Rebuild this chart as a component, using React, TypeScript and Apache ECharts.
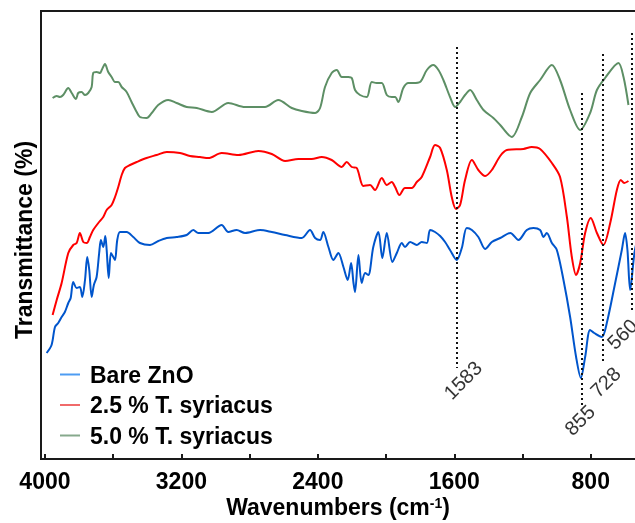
import React, { useEffect, useRef } from "react";
import * as echarts from "echarts";

// Bare ZnO
const bareW = [3990,3961,3941,3922,3902,3883,3863,3849,3834,3814,3795,3781,3765,3752,3740,3726,3713,3697,3682,3672,3658,3646,3638,3626,3613,3599,3589,3576,3560,3521,3482,3443,3384,3335,3286,3228,3169,3130,3101,3042,2964,2925,2876,2827,2739,2670,2592,2494,2446,2416,2387,2368,2338,2309,2280,2250,2225,2205,2191,2182,2162,2143,2123,2104,2075,2045,2022,1996,1963,1937,1908,1889,1859,1820,1791,1761,1742,1713,1683,1654,1625,1586,1556,1527,1497,1459,1419,1380,1331,1272,1224,1175,1136,1097,1077,1058,1028,999,960,921,886,858,833,804,780,735,706,657,618,599,585,569,544,520];
const bareT = [106,114,132,136,142,147,156,161,177,171,172,162,179,202,189,162,174,182,206,219,212,223,209,181,206,202,199,219,227,227,222,216,214,218,221,222,224,229,226,226,234,227,229,226,229,227,224,221,229,221,219,227,212,199,206,192,179,196,176,167,204,176,186,184,212,227,201,226,197,206,216,212,217,214,217,216,229,227,223,217,209,199,211,231,229,222,210,217,221,226,219,229,231,229,222,226,216,209,179,142,102,81,102,129,126,122,136,176,209,226,209,169,206,225];

// 2.5 % T. syriacus
const s25W = [3955,3931,3902,3863,3834,3814,3795,3775,3755,3736,3717,3687,3658,3638,3609,3589,3570,3550,3531,3501,3462,3404,3345,3286,3208,3150,3091,3042,2964,2866,2749,2670,2592,2514,2436,2377,2319,2260,2231,2201,2172,2133,2094,2065,2025,1996,1967,1947,1922,1889,1849,1820,1791,1742,1713,1683,1644,1615,1590,1566,1537,1497,1459,1419,1380,1331,1292,1195,1146,1097,1028,980,940,911,886,862,833,800,764,726,686,647,624,604,579];
const s25T = [144,159,176,206,214,216,226,217,216,222,229,236,242,249,254,262,272,284,291,294,297,301,304,307,306,303,302,301,306,304,308,305,298,300,300,302,299,292,297,292,291,273,274,269,281,274,277,272,264,271,271,277,282,302,314,311,289,262,250,254,279,299,289,283,289,303,309,310,312,310,296,282,242,202,184,196,226,241,226,214,236,269,279,276,278];

// 5.0 % T. syriacus
const s50W = [3955,3931,3912,3893,3863,3843,3818,3805,3785,3765,3746,3726,3717,3697,3677,3667,3648,3629,3609,3589,3570,3550,3521,3492,3462,3443,3404,3374,3336,3277,3228,3169,3110,3022,2925,2827,2710,2632,2553,2494,2416,2387,2358,2319,2289,2260,2221,2201,2182,2153,2113,2084,2055,2025,1996,1967,1947,1928,1899,1869,1840,1801,1761,1723,1693,1664,1625,1595,1566,1537,1507,1468,1429,1371,1331,1263,1204,1155,1097,1028,980,921,862,804,764,716,638,608,579];
const s50T = [361,363,362,364,371,366,360,366,367,364,366,372,386,387,386,389,395,387,382,377,377,372,367,357,347,342,341,346,354,359,356,352,351,347,356,352,352,359,351,348,346,351,372,386,389,382,382,381,369,364,362,377,376,376,364,362,362,357,371,376,376,377,389,394,389,379,362,352,357,364,369,359,349,341,334,322,342,366,379,394,379,349,329,346,369,381,396,382,354];

const seriesNames = ["Bare ZnO", "2.5 % T. syriacus", "5.0 % T. syriacus"];
const seriesColors = ["#0055cc", "#ff0000", "#5d8f65"];
const legendColors = ["#4d9cf2", "#f06a6a", "#86a98c"];

// Peak annotations
const peakW = [1583, 855, 728, 560];
const peakTop = [412, 366, 405, 426];
const peakBottom = [91, 54, 96, 147];
const peakLabelW = [1551, 866, 715, 616];
const peakLabelT = [79, 39, 77, 125];

const xTickLabels = [4000, 3200, 2400, 1600, 800];

export default function App() {
  const ref = useRef<HTMLDivElement>(null);
  useEffect(() => {
    document.body.style.margin = "0";
    const chart = echarts.init(ref.current!, null, { renderer: "svg" });
    const font = "'Liberation Sans', Arial, sans-serif";
    const zip = (w: number[], t: number[]) => w.map((x, i) => [x, t[i]]);
    const allW = [bareW, s25W, s50W];
    const allT = [bareT, s25T, s50T];
    const axisColor = "#1a1a1a";
    chart.setOption({
      animation: false,
      grid: {
        left: 41, right: -24, top: 11, bottom: 64,
        containLabel: false, outerBoundsMode: "none",
        show: true, borderColor: axisColor, borderWidth: 2, backgroundColor: "transparent",
      },
      xAxis: {
        type: "value", inverse: true, min: 400, max: 4023, interval: 400,
        axisLine: { show: true, lineStyle: { color: axisColor, width: 2 } },
        axisTick: { show: true, inside: true, length: 5, lineStyle: { color: axisColor, width: 2 } },
        axisLabel: {
          formatter: (v: number) => (xTickLabels.indexOf(v) >= 0 ? String(v) : ""),
          fontSize: 23, fontWeight: "bold", color: "#000", fontFamily: font, margin: 10,
        },
        splitLine: { show: false },
      },
      yAxis: {
        type: "value", min: 0, max: 448,
        axisLine: { show: true, lineStyle: { color: axisColor, width: 2 } },
        axisTick: { show: false }, axisLabel: { show: false }, splitLine: { show: false },
      },
      legend: {
        data: seriesNames.map((n, i) => ({ name: n, itemStyle: { color: legendColors[i] } })),
        orient: "vertical", left: 55, top: 358, icon: "rect", itemWidth: 20, itemHeight: 2,
        itemGap: 7.5, selectedMode: false,
        textStyle: { fontSize: 23, fontWeight: "bold", color: "#000", fontFamily: font, padding: [0, 0, 0, 5], lineHeight: 23 },
      },
      graphic: [
        {
          type: "text", x: 24, y: 240, rotation: Math.PI / 2,
          style: { text: "Transmittance (%)", fontSize: 23, fontWeight: "bold", fontFamily: font, fill: "#000", align: "center", verticalAlign: "middle" },
        },
        {
          type: "text", x: 338, y: 507,
          style: {
            text: "Wavenumbers (cm{sup|-1})", fontSize: 23, fontWeight: "bold", fontFamily: font, fill: "#000",
            align: "center", verticalAlign: "middle",
            rich: { sup: { fontSize: 14, fontWeight: "bold", fontFamily: font, fill: "#000", verticalAlign: "top" } },
          },
        },
      ],
      series: [
        ...seriesNames.map((n, i) => ({
          type: "line", name: n, data: zip(allW[i], allT[i]), showSymbol: false, symbol: "none",
          smooth: 0.3, lineStyle: { color: seriesColors[i], width: 2 }, itemStyle: { color: seriesColors[i] },
          silent: true,
        })),
        {
          type: "scatter", name: "peaks", silent: true, symbolSize: 1,
          itemStyle: { color: "transparent" },
          data: peakLabelW.map((w, i) => [w, peakLabelT[i], peakW[i]]),
          label: {
            show: true, position: "inside", rotate: 45, fontSize: 20, color: "#000", fontFamily: font,
            formatter: (p: any) => String(p.value[2]),
          },
          markLine: {
            silent: true, symbol: ["none", "none"], label: { show: false },
            lineStyle: { type: [2, 3], color: "#111", width: 2 },
            data: peakW.map((w, i) => [{ coord: [w, peakTop[i]] }, { coord: [w, peakBottom[i]] }]),
          },
        },
      ],
    });
    return () => chart.dispose();
  }, []);
  return <div ref={ref} style={{ position: "fixed", left: 0, top: 0, width: 635, height: 523 }} />;
}
